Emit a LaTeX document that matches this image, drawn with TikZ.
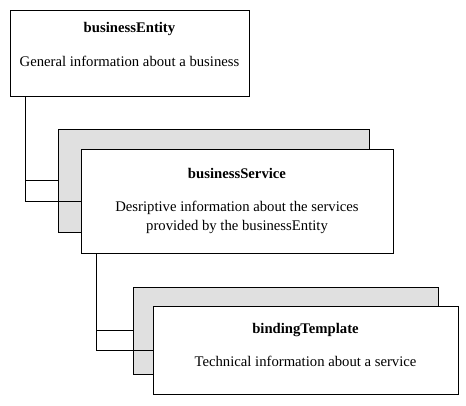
\documentclass[tikz,border=0pt]{standalone}
\usepackage{fontspec}
\setmainfont{Liberation Serif}
\usetikzlibrary{positioning, calc}
\definecolor{cardgray}{RGB}{224,224,224}

\begin{document}
\begin{tikzpicture}[x=1pt, y=1pt,
    card/.style={rectangle, draw, fill=white, line width=0.8pt, inner sep=0pt},
    backcard/.style={card, fill=cardgray},
    heading/.style={font=\fontsize{14.7}{19}\selectfont\bfseries, inner sep=0pt},
    info/.style={font=\fontsize{14.7}{19}\selectfont, align=center, inner sep=0pt},
    link/.style={line width=0.8pt}]
    \useasboundingbox (0,0) rectangle (466,-406);

    % businessEntity
    \node[card, minimum width=239pt, minimum height=86pt] (entity) at (129.5,-53) {};
    \node[heading] (entityTitle) at ($(entity.north)+(0,-19.5)$) {businessEntity};
    \node[info] (entityInfo) at ($(entity.north)+(0,-52)$) {General information about a business};

    % businessService
    \node[backcard, minimum width=311pt, minimum height=103pt] (serviceBack) at (213.5,-180.5) {};
    \node[card, minimum width=312pt, minimum height=104pt] (service) at (237,-201) {};
    \node[heading] (serviceTitle) at ($(service.north)+(0,-25)$) {businessService};
    \node[info] (serviceInfo) at ($(service.north)+(0,-68.5)$) {Desriptive information about the services\\provided by the businessEntity};

    % bindingTemplate
    \node[backcard, minimum width=305pt, minimum height=87pt] (bindingBack) at (285.5,-330.5) {};
    \node[card, minimum width=305pt, minimum height=88pt] (binding) at (305.5,-350) {};
    \node[heading] (bindingTitle) at ($(binding.north)+(0,-24)$) {bindingTemplate};
    \node[info] (bindingInfo) at ($(binding.north)+(0,-56)$) {Technical information about a service};

    % connectors
    \coordinate (entityDrop) at ($(entity.south west)+(16,0)$);
    \coordinate (serviceDrop) at ($(service.south west)+(16,0)$);
    \draw[link] (entityDrop) |- (serviceBack.west);
    \draw[link] (entityDrop) |- (service.west);
    \draw[link] (serviceDrop) |- (bindingBack.west);
    \draw[link] (serviceDrop) |- (binding.west);
\end{tikzpicture}
\end{document}
